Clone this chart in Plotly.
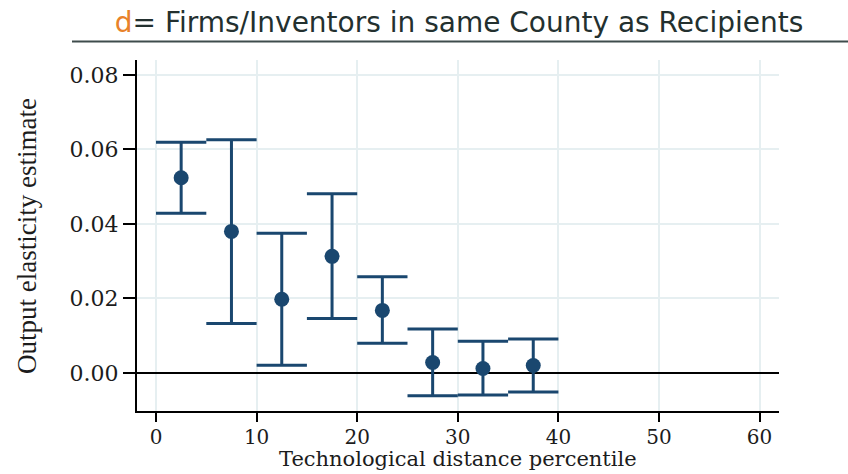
import plotly.graph_objects as go

# Technological-distance bins (midpoints of 5-percentile bins)
bin_mid = [2.5, 7.5, 12.5, 17.5, 22.5, 27.5, 32.5, 37.5]
bin_half = 2.5
# Output elasticity point estimates and confidence bounds
estimate = [0.0524, 0.0380, 0.0198, 0.0313, 0.0168, 0.0028, 0.0012, 0.0020]
ci_upper = [0.0619, 0.0626, 0.0375, 0.0481, 0.0258, 0.0118, 0.0085, 0.0091]
ci_lower = [0.0429, 0.0133, 0.0021, 0.0146, 0.0080, -0.0061, -0.0059, -0.0051]

x_ticks = [0, 10, 20, 30, 40, 50, 60]
y_ticks = [0.00, 0.02, 0.04, 0.06, 0.08]
y_tick_text = ["0.00", "0.02", "0.04", "0.06", "0.08"]

W, H = 848, 474
L, R, T, B = 137, 69, 60, 63
x_range = [-1.89, 61.93]
y_range = [-0.0102, 0.0840]
plot_w = W - L - R
plot_h = H - T - B

navy = "#1a476f"
grid = "#e6eff1"
serif = "DejaVu Serif"
ink = "#1c1c1c"

cap_px = bin_half * plot_w / (x_range[1] - x_range[0])


def px_to_paper_x(px):
    return (px - L) / plot_w


def px_to_paper_y(py):
    return (H - B - py) / plot_h


fig = go.Figure()
fig.add_trace(go.Scatter(
    x=bin_mid,
    y=estimate,
    mode="markers",
    marker=dict(color=navy, size=15),
    error_y=dict(
        type="data",
        symmetric=False,
        array=[u - e for u, e in zip(ci_upper, estimate)],
        arrayminus=[e - l for e, l in zip(estimate, ci_lower)],
        color=navy,
        thickness=3,
        width=cap_px,
    ),
    showlegend=False,
))

# title underline
fig.add_shape(
    type="line", xref="paper", yref="paper",
    x0=px_to_paper_x(72), x1=px_to_paper_x(W),
    y0=px_to_paper_y(41.5), y1=px_to_paper_y(41.5),
    line=dict(color="#3f4c4c", width=2),
)

# axis titles
fig.add_annotation(
    text="Technological distance percentile",
    xref="paper", yref="paper",
    x=px_to_paper_x(458), y=px_to_paper_y(459),
    xanchor="center", yanchor="middle", showarrow=False,
    font=dict(family=serif, size=21, color=ink),
)
fig.add_annotation(
    text="Output elasticity estimate",
    xref="paper", yref="paper",
    x=px_to_paper_x(27), y=px_to_paper_y(236),
    xanchor="center", yanchor="middle", showarrow=False, textangle=-90,
    font=dict(family="Liberation Serif", size=27, color=ink),
)

fig.update_layout(
    width=W, height=H,
    margin=dict(l=L, r=R, t=T, b=B, pad=0),
    paper_bgcolor="white",
    plot_bgcolor="white",
    title=dict(
        text="<span style='color:#e8822a'>d</span>= Firms/Inventors in same County as Recipients",
        x=459 / W, xanchor="center", xref="container",
        y=1 - 22 / H, yanchor="middle", yref="container",
        font=dict(family="DejaVu Sans", size=28, color="#23302f"),
    ),
    xaxis=dict(
        range=x_range,
        tickvals=x_ticks,
        automargin=False,
        showgrid=True, gridcolor=grid, gridwidth=2,
        showline=True, linecolor="black", linewidth=2,
        ticks="outside", ticklen=9, tickwidth=2, tickcolor="black",
        tickfont=dict(family=serif, size=20, color=ink),
        ticklabelstandoff=-2,
        zeroline=False,
    ),
    yaxis=dict(
        range=y_range,
        tickvals=y_ticks, ticktext=y_tick_text,
        automargin=False,
        showgrid=True, gridcolor=grid, gridwidth=2,
        showline=True, linecolor="black", linewidth=2,
        ticks="outside", ticklen=12, tickwidth=2, tickcolor="black",
        tickfont=dict(family=serif, size=22, color=ink),
        zeroline=True, zerolinecolor="black", zerolinewidth=2,
    ),
)

fig.write_html("out.html")
